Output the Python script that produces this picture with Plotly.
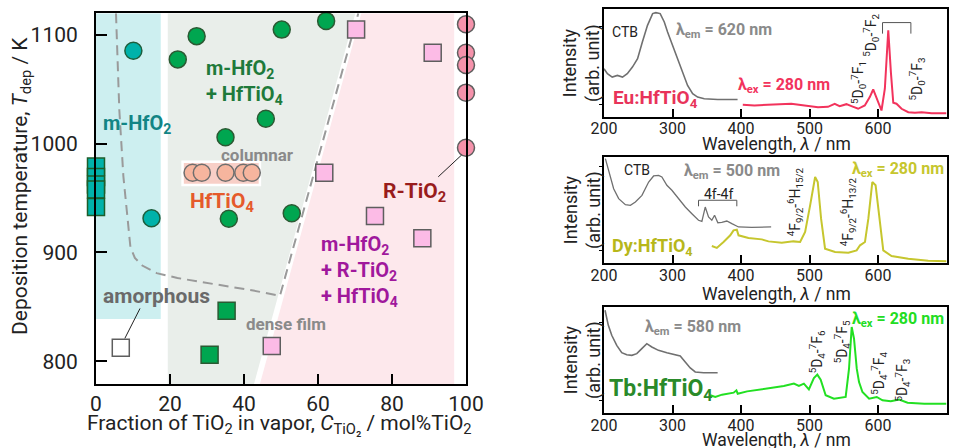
import plotly.graph_objects as go

# ---------------- Left: phase diagram data ----------------
mhfo2_circ_x = [10.1, 15.0]
mhfo2_circ_y = [1085.5, 931.4]
mhfo2_sq_x = [0, 0, 0, 0, 0]
mhfo2_sq_y = [979.0, 969.4, 962.5, 957.9, 941.8]
mix_circ_x = [22.1, 27.2, 50.2, 62.2, 45.9, 35.0, 35.9, 52.9]
mix_circ_y = [1077.6, 1099.0, 1105.0, 1113.0, 1023.0, 1006.0, 931.0, 936.0]
mix_sq_x = [35.3, 30.7]
mix_sq_y = [846.4, 806.0]
hftio4_x = [26.1, 28.6, 35.0, 39.8, 42.1]
hftio4_y = [973.3, 973.3, 973.3, 973.3, 973.3]
three_sq_x = [70.3, 91.0, 61.7, 75.4, 88.2, 47.5]
three_sq_y = [1105.0, 1083.7, 973.3, 933.5, 913.0, 814.0]
rtio2_x = [100, 100, 100, 100, 100]
rtio2_y = [1110.0, 1083.7, 1072.4, 1047.0, 996.3]
amorph_x = [6.7]
amorph_y = [812.3]

# dashed phase boundary (amorphous / crystalline, then HfTiO4-rich / 3-phase)
boundary_x = [5.4, 6.3, 7.4, 8.6, 9.3, 10.5, 12.5, 16.4, 22.0, 28.1, 35.0, 42.5, 49.7, 70.9]
boundary_y = [1120, 1031, 970, 930, 905, 895, 888, 881, 876.5, 873, 869.5, 865, 860, 1120]

# background regions
teal_region_x = [0, 17.5]
teal_region_y = [838.7, 1120]
gray_region_x = [19.4, 19.4, 70.1, 42.7]
gray_region_y = [779, 1120, 1120, 779]
pink_region_x = [44.3, 71.7, 96.8, 96.8]
pink_region_y = [779, 1120, 1120, 779]
columnar_box_x = [23.4, 44.3]
columnar_box_y = [962.0, 983.4]

x_ticks = [0, 20, 40, 60, 80, 100]
y_ticks = [800, 900, 1000, 1100]

# ---------------- Right: spectra data ----------------
eu_ex_wl = [200, 205, 212, 219.6, 227, 234, 241.5, 249, 256, 263.5, 271, 275.7, 282, 288,
            292.8, 300, 307.5, 314.8, 322, 329.4, 336.7, 346.4, 366, 395]
eu_ex_int = [0.445, 0.399, 0.368, 0.383, 0.368, 0.399, 0.461, 0.539, 0.695, 0.850, 0.960, 0.969,
             0.960, 0.882, 0.788, 0.664, 0.523, 0.414, 0.290, 0.212, 0.181, 0.165, 0.159, 0.159]
eu_em_wl = [402.6, 419.6, 439, 453.9, 473.4, 492.8, 512.4, 527, 536.8, 544, 553.9, 561.2, 571,
            580.7, 588, 593, 597.8, 605.1, 610, 615, 618.8, 622.3, 627, 634.4, 644.2, 653.9,
            663.7, 678.3, 700]
eu_em_int = [0.109, 0.103, 0.109, 0.112, 0.118, 0.103, 0.087, 0.090, 0.118, 0.097, 0.115, 0.097,
             0.072, 0.103, 0.181, 0.252, 0.181, 0.056, 0.259, 0.804, 0.414, 0.128, 0.119, 0.072,
             0.040, 0.034, 0.040, 0.031, 0.031]

dy_ex_wl = [202, 206.9, 214.1, 221.4, 231.2, 238.5, 245.8, 255.4, 265.2, 272.4, 279.7, 284.5,
            291.8, 299.1, 308.9, 318.7, 328.3, 338, 342.9, 347.8, 352.6, 357.4, 361.4, 366.2,
            372, 379.3, 386.6, 396.4, 415.7, 444]
dy_ex_int = [0.984, 0.858, 0.701, 0.607, 0.550, 0.544, 0.575, 0.638, 0.764, 0.821, 0.827, 0.811,
             0.733, 0.686, 0.607, 0.528, 0.465, 0.403, 0.393, 0.528, 0.434, 0.403, 0.450, 0.380,
             0.384, 0.396, 0.371, 0.340, 0.336, 0.340]
dy_em_wl = [357.4, 364.7, 374.5, 384.3, 389.1, 393.9, 396.4, 410.9, 430.3, 440.1, 459.5, 476.5,
            486.3, 493.6, 500.9, 508.2, 512, 516.9, 522.7, 537.3, 556.7, 568.8, 573.8, 581,
            585.9, 591.7, 596.5, 602.9, 607.7, 619.8, 644.2, 673.3, 700]
dy_em_int = [0.160, 0.142, 0.198, 0.261, 0.308, 0.314, 0.261, 0.236, 0.223, 0.204, 0.192, 0.204,
             0.198, 0.292, 0.544, 0.811, 0.764, 0.418, 0.135, 0.104, 0.097, 0.119, 0.167, 0.198,
             0.418, 0.764, 0.733, 0.355, 0.119, 0.066, 0.041, 0.022, 0.016]

tb_ex_wl = [201.5, 206.3, 211.3, 218.6, 225.9, 233.2, 240.6, 247.9, 255.2, 262.5, 269.8, 279.5,
            291.8, 304, 311.3, 318.6, 325.9, 333.2, 345.4, 365.9]
tb_ex_int = [0.969, 0.827, 0.733, 0.638, 0.569, 0.550, 0.544, 0.560, 0.607, 0.654, 0.623, 0.591,
             0.569, 0.550, 0.538, 0.481, 0.425, 0.387, 0.380, 0.380]
tb_em_wl = [355.2, 362.5, 372.3, 382, 389.3, 393.3, 395.2, 408.9, 428.4, 443, 462.5, 477.2,
            484.5, 491.8, 499.1, 506.4, 511.4, 516.3, 523.6, 535.7, 552.8, 557.7, 561.6, 565,
            569, 572.3, 577.3, 587, 598.2, 606.6, 618.7, 630.9, 643.2, 667.5, 700]
tb_em_int = [0.167, 0.151, 0.173, 0.182, 0.192, 0.214, 0.182, 0.204, 0.223, 0.236, 0.255, 0.277,
             0.255, 0.277, 0.223, 0.330, 0.362, 0.314, 0.167, 0.135, 0.151, 0.418, 0.811, 0.701,
             0.418, 0.292, 0.198, 0.135, 0.151, 0.120, 0.110, 0.126, 0.097, 0.088, 0.088]

wl_ticks = [200, 300, 400, 500, 600, 700]

eu_bracket_wl = [606.6, 606.6, 648, 648]
eu_bracket_int = [0.773, 0.876, 0.876, 0.773]
dy_bracket_wl = [338, 338, 393.9, 393.9]
dy_bracket_int = [0.535, 0.592, 0.592, 0.535]

# ---------------- figure ----------------
W, H = 959, 448
FONT = "Roboto, Arial, sans-serif"
fig = go.Figure()


def pxx(p):
    return p / W


def pxy(p):
    return 1 - p / H


shapes = []
shapes.append(dict(type="rect", xref="x", yref="y", x0=teal_region_x[0], x1=teal_region_x[1],
                   y0=teal_region_y[0], y1=teal_region_y[1], fillcolor="#cdeff0",
                   line=dict(width=0), layer="below"))


def poly(xs, ys):
    return "M " + " L ".join(f"{a},{b}" for a, b in zip(xs, ys)) + " Z"


shapes.append(dict(type="path", xref="x", yref="y", path=poly(gray_region_x, gray_region_y),
                   fillcolor="#e9eeea", line=dict(width=0), layer="below"))
shapes.append(dict(type="path", xref="x", yref="y", path=poly(pink_region_x, pink_region_y),
                   fillcolor="#fde8ec", line=dict(width=0), layer="below"))
shapes.append(dict(type="rect", xref="x", yref="y", x0=columnar_box_x[0], x1=columnar_box_x[1],
                   y0=columnar_box_y[0], y1=columnar_box_y[1], fillcolor="#f8cfc7",
                   line=dict(width=2.5, color="white"), layer="below"))
shapes.append(dict(type="line", xref="x", yref="y", x0=92.5, y0=969.6, x1=98.8, y1=989.6,
                   line=dict(color="#222", width=1)))
shapes.append(dict(type="line", xref="x", yref="y", x0=11.9, y0=848.5, x1=7.8, y1=821,
                   line=dict(color="#222", width=1)))

fig.add_trace(go.Scatter(x=boundary_x, y=boundary_y, mode="lines", xaxis="x", yaxis="y",
                         line=dict(color="#9a9a9a", width=2, dash="10px,6px"),
                         hoverinfo="skip", showlegend=False))


def markers(x, y, sym, fill, edge):
    fig.add_trace(go.Scatter(x=x, y=y, mode="markers", xaxis="x", yaxis="y", cliponaxis=False,
                             marker=dict(symbol=sym, size=17, color=fill,
                                         line=dict(color=edge, width=1.5)),
                             showlegend=False))


markers(mhfo2_circ_x, mhfo2_circ_y, "circle", "#00b2aa", "#1d5e3c")
markers(mhfo2_sq_x, mhfo2_sq_y, "square", "#00b2aa", "#1d5e2a")
markers(mix_circ_x, mix_circ_y, "circle", "#00a650", "#2b5a33")
markers(mix_sq_x, mix_sq_y, "square", "#00a650", "#2b5a33")
markers(hftio4_x, hftio4_y, "circle", "#f6b59e", "#6e6e6e")
markers(three_sq_x, three_sq_y, "square", "#fcbbe6", "#5e5e5e")
markers(rtio2_x, rtio2_y, "circle", "#f592ab", "#5e5e5e")
markers(amorph_x, amorph_y, "square", "#ffffff", "#5e5e5e")


def spec(x, y, ax, color, width):
    fig.add_trace(go.Scatter(x=x, y=y, mode="lines", xaxis="x" + ax, yaxis="y" + ax,
                             line=dict(color=color, width=width), showlegend=False))


spec(eu_ex_wl, eu_ex_int, "2", "#707070", 1.6)
spec(eu_em_wl, eu_em_int, "2", "#f2335c", 2)
spec(eu_bracket_wl, eu_bracket_int, "2", "#555555", 1)
spec(dy_ex_wl, dy_ex_int, "3", "#707070", 1.3)
spec(dy_em_wl, dy_em_int, "3", "#c6c62e", 2)
spec(dy_bracket_wl, dy_bracket_int, "3", "#555555", 1)
spec(tb_ex_wl, tb_ex_int, "4", "#707070", 1.6)
spec(tb_em_wl, tb_em_int, "4", "#22e022", 2)

ann = []


def A(text, x, y, xref, yref, size, color, xanchor="center", yanchor="middle", angle=0,
      align="center"):
    ann.append(dict(text=text, x=x, y=y, xref=xref, yref=yref, showarrow=False,
                    font=dict(family=FONT, size=size, color=color), xanchor=xanchor,
                    yanchor=yanchor, textangle=angle, align=align))


A("<b>m-HfO<sub>2</sub></b>", 11.2, 1018, "x", "y", 20, "#128585")
A("<b>m-HfO<sub>2</sub><br>+ HfTiO<sub>4</sub></b>", 29.2, 1057, "x", "y", 20, "#1f7a3b",
  xanchor="left", align="left")
A("<b>columnar</b>", 43.6, 989.6, "x", "y", 17, "#8a8a8a")
A("<b>HfTiO<sub>4</sub></b>", 34.1, 946, "x", "y", 21, "#e55a2b")
A("<b>R-TiO<sub>2</sub></b>", 86.0, 955, "x", "y", 21, "#991c1c")
A("<b>m-HfO<sub>2</sub><br>+ R-TiO<sub>2</sub><br>+ HfTiO<sub>4</sub></b>", 60.4, 883, "x", "y",
  20, "#a0189c", xanchor="left", align="left")
A("<b>amorphous</b>", 16.4, 860, "x", "y", 21, "#6a6a6a")
A("<b>dense film</b>", 51.4, 834, "x", "y", 17, "#8a8a8a")
A("Deposition temperature, <i>T</i><sub>dep</sub> / K", pxx(21), pxy(186), "paper", "paper",
  21, "#222", angle=-90)
A("Fraction of TiO<sub>2</sub> in vapor, <i>C</i><sub>TiO₂</sub> / mol%TiO<sub>2</sub>",
  pxx(279), pxy(424), "paper", "paper", 21, "#222")

for yc, yt in [((9.3 + 116.5) / 2, 144), ((157 + 263) / 2, 294), ((307 + 413) / 2, 440)]:
    A("Intensity<br>(arb. unit)", pxx(582), pxy(yc), "paper", "paper", 18, "#222", angle=-90)
    A("Wavelength, <i>λ</i> / nm", pxx(776), pxy(yt), "paper", "paper", 17.5, "#222")

A("CTB", 230.6, 0.79, "x2", "y2", 14, "#222")
A("<b>λ<sub>em</sub> = 620 nm</b>", 302.5, 0.80, "x2", "y2", 16, "#8a8a8a", xanchor="left")
A("<b>Eu:HfTiO<sub>4</sub></b>", 209.8, 0.17, "x2", "y2", 19, "#e8335a", xanchor="left")
A("<b>λ<sub>ex</sub> = 280 nm</b>", 392.8, 0.29, "x2", "y2", 16, "#f2335c", xanchor="left")
A("<sup>5</sup>D<sub>0</sub>-<sup>7</sup>F<sub>1</sub>", 571.9, 0.32, "x2", "y2", 14, "#222", angle=-90)
A("<sup>5</sup>D<sub>0</sub>-<sup>7</sup>F<sub>2</sub>", 590.5, 0.757, "x2", "y2", 14, "#222", angle=-90)
A("<sup>5</sup>D<sub>0</sub>-<sup>7</sup>F<sub>3</sub>", 656.4, 0.352, "x2", "y2", 14, "#222", angle=-90)

A("CTB", 248.1, 0.874, "x3", "y3", 14, "#222")
A("<b>λ<sub>em</sub> = 500 nm</b>", 313.7, 0.86, "x3", "y3", 16, "#8a8a8a", xanchor="left")
A("4f-4f", 367.2, 0.654, "x3", "y3", 14, "#222")
A("<b>Dy:HfTiO<sub>4</sub></b>", 209.3, 0.15, "x3", "y3", 18, "#b7b71a", xanchor="left")
A("<b>λ<sub>ex</sub> = 280 nm</b>", 699, 0.88, "x3", "y3", 16, "#c6c62e", xanchor="right")
A("<sup>4</sup>F<sub>9/2</sub>-<sup>6</sup>H<sub>15/2</sub>", 479, 0.575, "x3", "y3", 14, "#222", angle=-90)
A("<sup>4</sup>F<sub>9/2</sub>-<sup>6</sup>H<sub>13/2</sub>", 556.7, 0.481, "x3", "y3", 14, "#222", angle=-90)

A("<b>λ<sub>em</sub> = 580 nm</b>", 257.5, 0.81, "x4", "y4", 16, "#8a8a8a", xanchor="left")
A("<b>Tb:HfTiO<sub>4</sub></b>", 204, 0.22, "x4", "y4", 23, "#2a8a2a", xanchor="left")
A("<b>λ<sub>ex</sub> = 280 nm</b>", 699, 0.88, "x4", "y4", 16, "#22dd22", xanchor="right")
A("<sup>5</sup>D<sub>4</sub>-<sup>7</sup>F<sub>6</sub>", 511.4, 0.575, "x4", "y4", 14, "#222", angle=-90)
A("<sup>5</sup>D<sub>4</sub>-<sup>7</sup>F<sub>5</sub>", 548, 0.67, "x4", "y4", 14, "#222", angle=-90)
A("<sup>5</sup>D<sub>4</sub>-<sup>7</sup>F<sub>4</sub>", 601.6, 0.371, "x4", "y4", 14, "#222", angle=-90)
A("<sup>5</sup>D<sub>4</sub>-<sup>7</sup>F<sub>3</sub>", 635.9, 0.311, "x4", "y4", 14, "#222", angle=-90)

left_x_dom = [pxx(96), pxx(466)]
left_y_dom = [pxy(384), pxy(13.3)]
right_x_dom = [pxx(604), pxx(946.5)]
p_doms = [[pxy(116.5), pxy(9.3)], [pxy(263), pxy(157)], [pxy(413), pxy(307)]]
ytick_sets = [[0.11, 0.84], [0.12, 0.906], [0.12, 0.858]]

layout = dict(
    width=W, height=H, autosize=False,
    margin=dict(l=0, r=0, t=0, b=0, pad=0, autoexpand=False),
    paper_bgcolor="white", plot_bgcolor="white", showlegend=False,
    font=dict(family=FONT, color="#222"),
    shapes=shapes, annotations=ann,
    xaxis=dict(domain=left_x_dom, range=[0, 100], tickvals=x_ticks, ticks="inside", ticklen=10,
               tickwidth=2, tickcolor="black", showline=True, linecolor="black", linewidth=2,
               mirror=True, showgrid=False, zeroline=False, tickfont=dict(size=21, color="#222"),
               anchor="y", ticklabelstandoff=0, automargin=False),
    yaxis=dict(domain=left_y_dom, range=[779, 1120], tickvals=y_ticks, ticks="inside", ticklen=11,
               tickwidth=2, tickcolor="black", showline=True, linecolor="black", linewidth=2,
               mirror=True, showgrid=False, zeroline=False, tickfont=dict(size=21, color="#222"),
               anchor="x", ticklabelstandoff=12, automargin=False),
)
for i, (dom, ytv) in enumerate(zip(p_doms, ytick_sets)):
    n = str(i + 2)
    layout["xaxis" + n] = dict(domain=right_x_dom, range=[200, 700], tickvals=wl_ticks,
                               ticks="inside", ticklen=8, tickwidth=1.5, tickcolor="black",
                               showline=True, linecolor="black", linewidth=1.5, mirror=True,
                               showgrid=False, zeroline=False, anchor="y" + n,
                               tickfont=dict(size=16, color="#222"), ticklabelstandoff=-3,
                               automargin=False)
    layout["yaxis" + n] = dict(domain=dom, range=[0, 1], tickvals=ytv, ticks="outside",
                               ticklen=3, tickwidth=1, tickcolor="black", showticklabels=False,
                               showline=True, linecolor="black", linewidth=1.5, mirror=True,
                               showgrid=False, zeroline=False, anchor="x" + n, automargin=False)

fig.update_layout(**layout)
fig.write_html("out.html", config={"displayModeBar": False},
               post_script="document.body.style.margin='0';document.body.style.overflow='hidden';")
